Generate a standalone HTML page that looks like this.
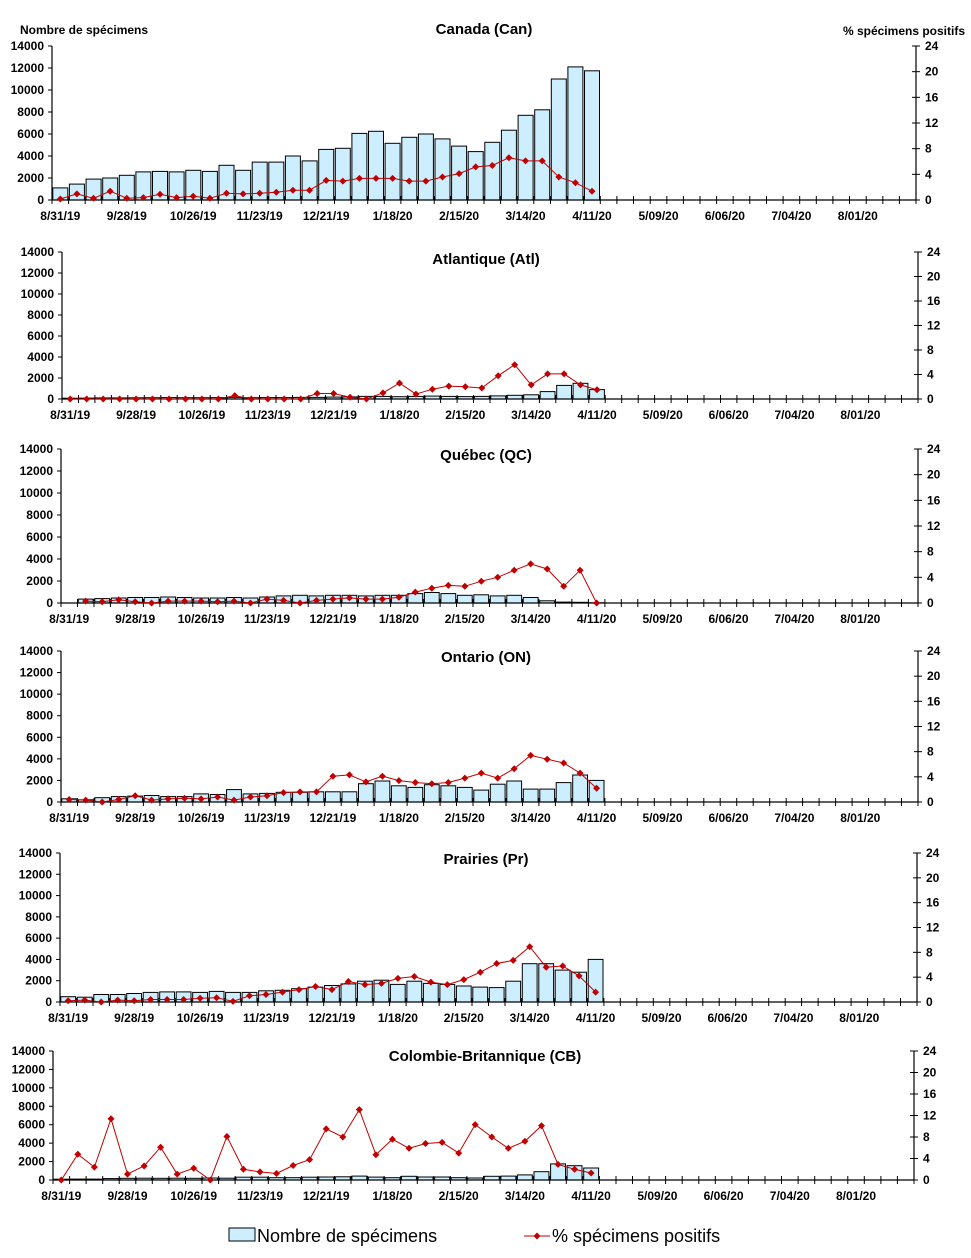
<!DOCTYPE html>
<html><head><meta charset="utf-8">
<style>
html,body{margin:0;padding:0;background:#fff;}
svg{display:block;font-family:"Liberation Sans",Arial,sans-serif;}
.t{font-size:12px;font-weight:bold;fill:#000;}
.ti{font-size:15px;font-weight:bold;fill:#000;}
</style></head>
<body>
<svg id="s" width="971" height="1258" viewBox="0 0 971 1258" xmlns="http://www.w3.org/2000/svg"></svg>
<script>
var S=document.getElementById('s');var out='';
var labels=['8/31/19','9/28/19','10/26/19','11/23/19','12/21/19','1/18/20','2/15/20','3/14/20','4/11/20','5/09/20','6/06/20','7/04/20','8/01/20'];
var panels=[
{l:52,r:916,top:46,z:200,title:'Canada (Can)',ty:34,tx:484,
 bars:[1100,1450,1900,2000,2250,2550,2600,2550,2700,2600,3150,2700,3450,3450,4000,3550,4600,4700,6050,6250,5150,5700,6000,5550,4900,4400,5250,6350,7700,8200,11000,12100,11750],
 pct:[0.16,0.95,0.26,1.37,0.26,0.37,0.9,0.37,0.58,0.26,1.05,0.95,1.05,1.21,1.53,1.53,3.06,2.95,3.37,3.37,3.37,2.95,2.95,3.58,4.11,5.16,5.37,6.59,6.1,6.1,3.58,2.69,1.37]},
{l:62,r:918,top:252,z:399,title:'Atlantique (Atl)',ty:264,tx:486,
 bars:[80,90,100,100,110,120,130,120,120,130,150,120,130,130,150,150,180,200,250,250,220,250,280,250,230,250,300,350,400,700,1300,1500,900],
 pct:[0,0,0,0,0,0,0,0,0,0,0.55,0,0,0,0,0.9,0.9,0.3,0,1,2.6,0.8,1.6,2.1,2,1.8,3.8,5.6,2.3,4.1,4.1,2.3,1.5].slice(0,33)},
{l:61,r:918,top:449,z:603,title:'Québec (QC)',ty:460,tx:486,
 bars:[null,350,400,450,500,500,550,500,450,450,500,450,550,650,700,650,700,700,650,700,700,850,950,850,700,750,650,700,500,200,80,60,20],
 pct:[null,0.3,0.2,0.5,0.2,0,0.3,0.3,0.3,0.2,0.3,0,0.6,0.4,0,0.4,0.6,0.8,0.6,0.6,0.9,1.7,2.3,2.75,2.6,3.4,4.0,5.1,6.1,5.3,2.6,5.1,0]},
{l:61,r:918,top:651,z:802,title:'Ontario (ON)',ty:662,tx:486,
 bars:[300,200,400,500,550,600,500,500,750,700,1150,750,800,900,900,950,950,950,1700,1950,1500,1350,1600,1500,1350,1100,1650,1950,1200,1200,1800,2500,2000],
 pct:[0.4,0.3,0,0.4,1,0.3,0.5,0.6,0.5,0.8,0.3,0.8,1.0,1.5,1.6,1.6,4.1,4.3,3.2,4.1,3.4,3.1,2.9,3.1,3.8,4.6,3.8,5.3,7.4,6.8,6.2,4.6,2.2]},
{l:60,r:917,top:853,z:1002,title:'Prairies (Pr)',ty:864,tx:486,
 bars:[500,450,700,700,800,900,950,950,900,1000,900,900,1050,1100,1250,1400,1550,1700,1950,2050,1650,1950,1750,1650,1500,1400,1350,1950,3600,3600,3000,2800,4000],
 pct:[0.2,0.3,0,0.3,0.2,0.4,0.4,0.4,0.6,0.7,0.1,1.0,1.2,1.6,2.0,2.5,2.0,3.3,2.8,3.0,3.8,4.1,3.2,2.8,3.6,4.8,6.2,6.7,8.9,5.6,5.8,4.2,1.6]},
{l:53,r:914,top:1051,z:1180,title:'Colombie-Britannique (CB)',ty:1061,tx:485,
 bars:[],
 pct:[0,4.8,2.4,11.4,1.1,2.6,6.1,1.1,2.2,0,8.1,2.0,1.5,1.2,2.7,3.8,9.5,8.0,13.1,4.7,7.6,5.9,6.8,7.0,5.0,10.3,8.0,5.9,7.2,10.1,2.9,2.0,1.3]}
];
panels[5].bars=[80,90,100,100,150,180,200,180,200,180,220,200,300,300,250,250,300,330,350,420,320,250,400,330,330,250,220,400,420,550,900,1750,1550,1300].slice(-33);
panels.forEach(function(p,pi){
 var w=(p.r-p.l)/52,h=p.z-p.top;
 var yv=function(v){return p.z-v/14000*h;}, yp=function(v){return p.z-v/24*h;};
 p.bars.forEach(function(b,i){ if(b==null)return; var x=p.l+i*w+w*0.05,bw=w*0.9,y=yv(b);
  out+='<rect x="'+x.toFixed(1)+'" y="'+y.toFixed(1)+'" width="'+bw.toFixed(1)+'" height="'+(p.z-y).toFixed(1)+'" fill="#cdeeff" stroke="#000" stroke-width="1"/>';});
 out+='<line x1="'+p.l+'" y1="'+p.top+'" x2="'+p.l+'" y2="'+p.z+'" stroke="#000" stroke-width="1.2"/>';
 out+='<line x1="'+p.r+'" y1="'+p.top+'" x2="'+p.r+'" y2="'+p.z+'" stroke="#000" stroke-width="1.2"/>';
 out+='<line x1="'+p.l+'" y1="'+p.z+'" x2="'+p.r+'" y2="'+p.z+'" stroke="#000" stroke-width="1.2"/>';
 for(var k=0;k<=52;k++){var x=p.l+k*w;out+='<line x1="'+x.toFixed(1)+'" y1="'+(p.z-4)+'" x2="'+x.toFixed(1)+'" y2="'+(p.z+4)+'" stroke="#000"/>';}
 for(var k=0;k<=7;k++){var y=yv(k*2000);
  out+='<line x1="'+(p.l-4)+'" y1="'+y+'" x2="'+p.l+'" y2="'+y+'" stroke="#000"/>';
  out+='<text class="t" x="'+(p.l-8)+'" y="'+(y+4)+'" text-anchor="end">'+(k*2000)+'</text>';}
 for(var k=0;k<=6;k++){
  var y2=yp(k*4);
  out+='<line x1="'+(p.r-4)+'" y1="'+y2+'" x2="'+(p.r+4)+'" y2="'+y2+'" stroke="#000"/>';
  out+='<text class="t" x="'+(p.r+9)+'" y="'+(y2+4)+'">'+(k*4)+'</text>';}
 labels.forEach(function(L,i){var x=p.l+(i*4+0.5)*w;out+='<text class="t" x="'+x.toFixed(1)+'" y="'+(p.z+20)+'" text-anchor="middle">'+L+'</text>';});
 var pts=[];p.pct.forEach(function(v,i){if(v==null)return;pts.push([p.l+(i+0.5)*w,yp(v)]);});
 out+='<polyline fill="none" stroke="#c00000" stroke-width="1" points="'+pts.map(function(q){return q[0].toFixed(1)+','+q[1].toFixed(1);}).join(' ')+'"/>';
 pts.forEach(function(q){out+='<polygon fill="#c00000" points="'+q[0].toFixed(1)+','+(q[1]-3.5).toFixed(1)+' '+(q[0]+3.5).toFixed(1)+','+q[1].toFixed(1)+' '+q[0].toFixed(1)+','+(q[1]+3.5).toFixed(1)+' '+(q[0]-3.5).toFixed(1)+','+q[1].toFixed(1)+'"/>';});
 out+='<text class="ti" x="'+p.tx+'" y="'+p.ty+'" text-anchor="middle">'+p.title+'</text>';
});
out+='<text class="t" x="20" y="34">Nombre de spécimens</text>';
out+='<text class="t" x="965" y="35" text-anchor="end">% spécimens positifs</text>';
out+='<rect x="229" y="1228" width="26" height="13" fill="#cdeeff" stroke="#000"/>';
out+='<text x="257" y="1242" style="font-size:18px">Nombre de spécimens</text>';
out+='<line x1="524" y1="1236" x2="550" y2="1236" stroke="#c00000"/><polygon fill="#c00000" points="537,1232.5 540.5,1236 537,1239.5 533.5,1236"/>';
out+='<text x="552" y="1242" style="font-size:18px">% spécimens positifs</text>';
S.innerHTML=out;
</script>
</body></html>
